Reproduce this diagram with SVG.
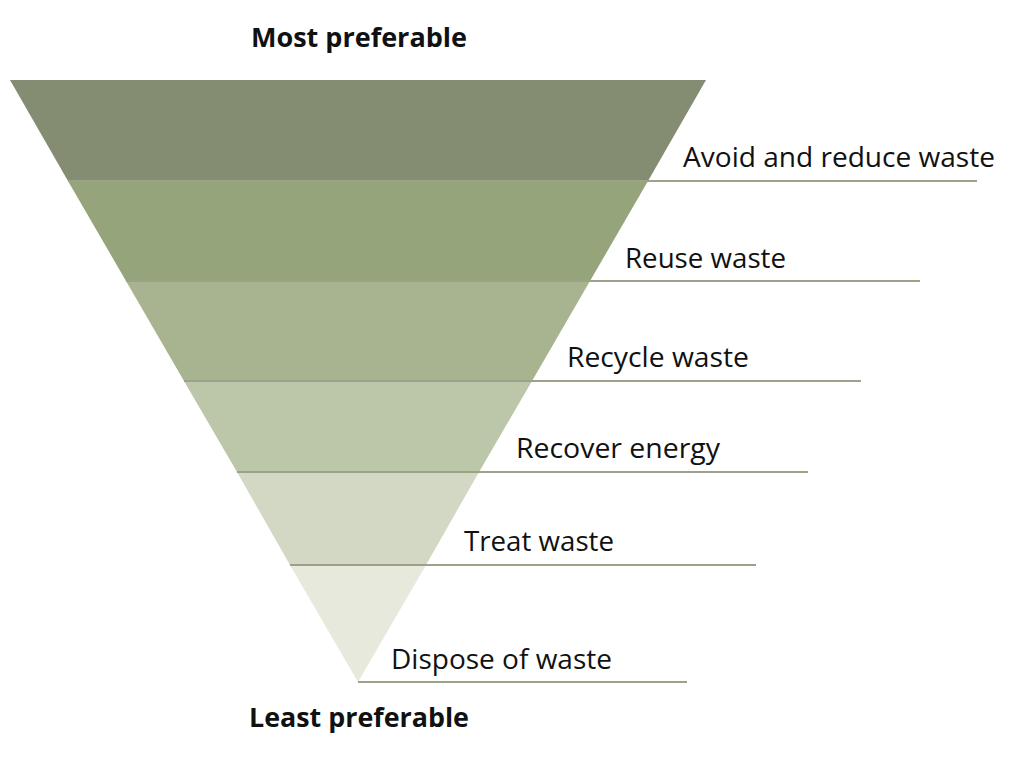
<svg xmlns="http://www.w3.org/2000/svg" width="1024" height="760" viewBox="0 0 1024 760">
<style>
.lbl{font-family:"Open Sans","Noto Sans","Liberation Sans",sans-serif;font-size:27px;fill:#111}
.ttl{font-family:"Open Sans","Noto Sans","Liberation Sans",sans-serif;font-size:27px;font-weight:bold;fill:#111}
.rule{stroke:#9aa288;stroke-width:2;fill:none}
</style>
<rect width="1024" height="760" fill="#fff"/>
<g id="band1"><polygon points="10,80 706,80 648,181 68,181" fill="#848d71"/></g>
<g id="band2"><polygon points="68,181 648,181 590,281 126,281" fill="#95a47a"/></g>
<g id="band3"><polygon points="126,281 590,281 532,381 184,381" fill="#a8b38f"/></g>
<g id="band4"><polygon points="184,381 532,381 479,472 237,472" fill="#bcc6a9"/></g>
<g id="band5"><polygon points="237,472 479,472 426,565 290,565" fill="#d2d8c3"/></g>
<g id="band6"><polygon points="290,565 426,565 358,682" fill="#e6e9dc"/></g>
<g id="connectors">
<line class="rule" x1="68" y1="181" x2="977" y2="181"/>
<line class="rule" x1="126" y1="281" x2="920" y2="281"/>
<line class="rule" x1="184" y1="381" x2="861" y2="381"/>
<line class="rule" x1="237" y1="472" x2="808" y2="472"/>
<line class="rule" x1="290" y1="565" x2="756" y2="565"/>
<line class="rule" x1="358" y1="682" x2="687" y2="682"/>
</g>
<g id="labels">
<text class="ttl" x="251" y="47" textLength="216" lengthAdjust="spacingAndGlyphs">Most preferable</text>
<text class="lbl" x="683" y="167" textLength="312" lengthAdjust="spacingAndGlyphs">Avoid and reduce waste</text>
<text class="lbl" x="625" y="268" textLength="161" lengthAdjust="spacingAndGlyphs">Reuse waste</text>
<text class="lbl" x="567" y="367" textLength="182" lengthAdjust="spacingAndGlyphs">Recycle waste</text>
<text class="lbl" x="516" y="458" textLength="204" lengthAdjust="spacingAndGlyphs">Recover energy</text>
<text class="lbl" x="464" y="551" textLength="150" lengthAdjust="spacingAndGlyphs">Treat waste</text>
<text class="lbl" x="391" y="669" textLength="221" lengthAdjust="spacingAndGlyphs">Dispose of waste</text>
<text class="ttl" x="249" y="727" textLength="220" lengthAdjust="spacingAndGlyphs">Least preferable</text>
</g>
</svg>
